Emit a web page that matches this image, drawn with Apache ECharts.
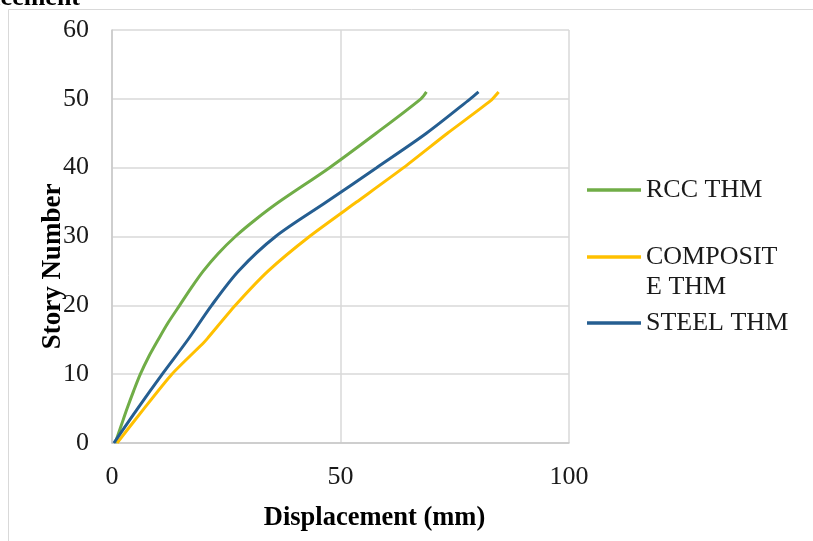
<!DOCTYPE html>
<html>
<head>
<meta charset="utf-8">
<script src="https://cdn.jsdelivr.net/npm/echarts@6/dist/echarts.min.js"></script>
<style>html,body{margin:0;padding:0;background:#fff}#c{width:813px;height:541px}</style>
</head>
<body>
<div id="c"></div>
<script>
const seriesNames = ['RCC THM', 'COMPOSITE THM', 'STEEL THM'];
const rccStory = [0, 2.5, 5, 7.5, 10, 12.5, 15, 17.5, 20, 22.5, 25, 27.5, 30, 32.5, 35, 40, 45, 50, 51];
const rccDisp  = [0.7, 2.0, 3.3, 4.7, 6.2, 8.0, 10.1, 12.3, 14.8, 17.3, 20.0, 23.2, 27.0, 31.5, 36.5, 47.6, 57.8, 67.6, 68.8];
const compStory = [0, 5, 10, 14.6, 15.2, 20, 25, 30, 35, 40, 45, 49.7, 51];
const compDisp  = [1.1, 7.0, 13.1, 20.1, 20.9, 27.0, 34.2, 43.2, 53.5, 63.8, 73.4, 82.8, 84.6];
const steelStory = [0, 5, 10, 15, 20, 25, 30, 35, 40, 45, 50, 51];
const steelDisp  = [0.4, 5.6, 11.0, 16.6, 21.8, 27.7, 35.8, 46.9, 57.9, 68.8, 78.4, 80.2];
const xTicks = [0, 50, 100];
const yTicks = [0, 10, 20, 30, 40, 50, 60];

const colors = ['#70AD47', '#FFC000', '#255E91'];
const pairs = (xs, ys) => xs.map((x, i) => [x, ys[i]]);
const font = '"Liberation Serif", "Times New Roman", serif';

const chart = echarts.init(document.getElementById('c'));
const legendBase = {
  orient: 'vertical', left: 587, padding: 0, selectedMode: false,
  icon: 'rect', itemWidth: 54, itemHeight: 3.5, itemGap: 5,
  textStyle: { fontFamily: font, fontSize: 26, color: '#1a1a1a' }
};
chart.setOption({
  animation: false,
  color: colors,
  grid: { left: 112, right: 244, top: 30, bottom: 98 },
  xAxis: {
    type: 'value', min: xTicks[0], max: xTicks[xTicks.length - 1], interval: 50,
    name: 'Displacement (mm)', nameLocation: 'middle', nameGap: 62, nameMoveOverlap: false,
    nameTextStyle: { fontFamily: font, fontSize: 26.5, fontWeight: 'bold', color: '#000', padding: [0, 0, 0, 68] },
    axisLine: { lineStyle: { color: '#c8c8c8', width: 1.5 } },
    axisTick: { show: false },
    axisLabel: { margin: 21, fontFamily: font, fontSize: 26, color: '#1a1a1a' },
    splitLine: { show: true, lineStyle: { color: '#d9d9d9', width: 1.5 } }
  },
  yAxis: {
    type: 'value', min: yTicks[0], max: yTicks[yTicks.length - 1], interval: 10,
    name: 'Story Number', nameLocation: 'middle', nameGap: 45, nameRotate: 90, nameMoveOverlap: false,
    nameTextStyle: { fontFamily: font, fontSize: 27, fontWeight: 'bold', color: '#000', padding: [0, 60, 0, 0] },
    axisLine: { show: true, lineStyle: { color: '#c8c8c8', width: 1.5 } },
    axisTick: { show: false },
    axisLabel: { margin: 23, fontFamily: font, fontSize: 26, color: '#1a1a1a' },
    splitLine: { show: true, lineStyle: { color: '#d9d9d9', width: 1.5 } }
  },
  legend: [
    Object.assign({}, legendBase, { top: 177, data: [seriesNames[0]] }),
    Object.assign({}, legendBase, { top: 244, data: [seriesNames[1]], formatter: () => 'COMPOSIT' }),
    Object.assign({}, legendBase, { top: 310, data: [seriesNames[2]] })
  ],
  graphic: [
    { type: 'rect', silent: true, shape: { x: 8.5, y: 9.5, width: 900, height: 600 },
      style: { fill: 'none', stroke: '#d9d9d9', lineWidth: 1 } },
    { type: 'text', left: 646, top: 274, style: { text: 'E THM', fontFamily: font, fontSize: 26, fill: '#1a1a1a' } },
    { type: 'text', x: 80, y: 11, style: { text: 'Displacement', fontFamily: font, fontSize: 26, fontWeight: 'bold', fill: '#000', align: 'right', verticalAlign: 'bottom' } }
  ],
  series: [
    { name: seriesNames[0], type: 'line', showSymbol: false, smooth: 0.3, data: pairs(rccDisp, rccStory), lineStyle: { width: 3, color: colors[0] } },
    { name: seriesNames[1], type: 'line', showSymbol: false, smooth: 0.2, data: pairs(compDisp, compStory), lineStyle: { width: 3, color: colors[1] } },
    { name: seriesNames[2], type: 'line', showSymbol: false, smooth: 0.3, data: pairs(steelDisp, steelStory), lineStyle: { width: 3, color: colors[2] } }
  ]
});
</script>
</body>
</html>
